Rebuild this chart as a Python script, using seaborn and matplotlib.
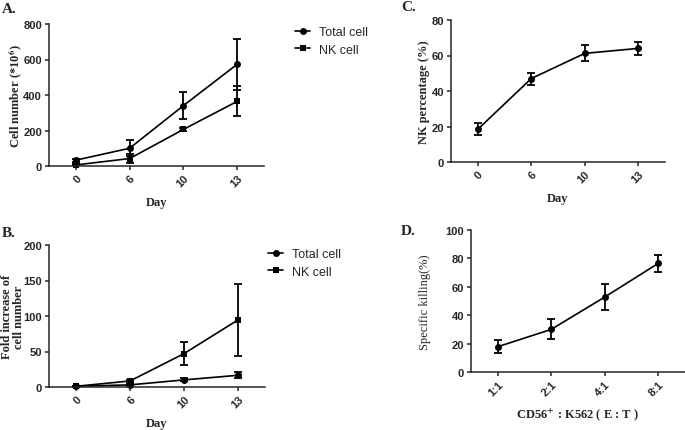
import matplotlib
matplotlib.use('Agg')
import matplotlib.pyplot as plt
import seaborn as sns

# values (mean and error bar half-length)
days = ["0", "6", "10", "13"]
total_cell = [33, 100, 340, 573]
total_cell_err = [8, 45, 75, 143]
nk_cell = [6, 42, 206, 364]
nk_cell_err = [3, 25, 8, 85]

fold_total = [1, 3, 10, 16.5]
fold_total_err = [0.3, 1, 2, 4]
fold_nk = [1, 8.5, 47, 94.5]
fold_nk_err = [0.5, 2, 16, 51]

nk_pct = [18.4, 47, 61.2, 64]
nk_pct_err = [3.4, 3.4, 4.5, 3.7]

ratios = ["1:1", "2:1", "4:1", "8:1"]
killing = [17.8, 30, 52.8, 76.5]
killing_err = [4.4, 7, 9, 6]

sns.set_style('ticks')
plt.rcParams['font.family'] = ['Liberation Sans', 'DejaVu Sans']
plt.rcParams['mathtext.fontset'] = 'stix'

W, H = 685, 431
fig = plt.figure(figsize=(6.85, 4.31), dpi=100)

def px_axes(left, right, top, bottom):
    return fig.add_axes([left / W, 1 - bottom / H, (right - left) / W, (bottom - top) / H])

serif = dict(fontfamily='Liberation Serif', fontweight='bold', fontsize=9)

def series(ax, x, y, err, marker, label=None):
    sns.lineplot(x=x, y=y, marker=marker, color='black', lw=1.2, markersize=5,
                 markeredgewidth=0, sort=False, label=label, ax=ax, clip_on=False)
    ax.errorbar(x, y, yerr=err, fmt='none', ecolor='black', elinewidth=1.3,
                capsize=2.6, capthick=1.3, clip_on=False)

def style(ax, yticks, xlabel, ylabel, ylab_x, xlab_y=-0.254, ylab_kw=serif):
    ax.set_ylim(yticks[0], yticks[-1])
    ax.set_yticks(yticks)
    ax.set_xlim(-0.5, 3.5)
    sns.despine(ax=ax)
    for s in ['left', 'bottom']:
        ax.spines[s].set_linewidth(1.1)
    ax.tick_params(width=1.1, length=3, labelsize=8, pad=2)
    for t in ax.get_yticklabels():
        t.set_fontweight('bold')
    for t in ax.get_xticklabels():
        t.set_fontweight('bold')
        t.set_rotation(45)
        t.set_ha('right')
        t.set_rotation_mode('anchor')
    ax.set_xlabel(xlabel, va='center', **serif)
    ax.set_ylabel(ylabel, va='center', ha='center', linespacing=1.0, **ylab_kw)
    ax.xaxis.set_label_coords(0.5, xlab_y)
    ax.yaxis.set_label_coords(ylab_x, 0.5)

def legend(ax, x, top):
    ax.legend(loc='upper left', bbox_to_anchor=(x / W, 1 - top / H),
              bbox_transform=fig.transFigure, frameon=False, fontsize=9,
              handlelength=1.2, handletextpad=0.7, labelspacing=0.45,
              borderpad=0, borderaxespad=0)

# A
axA = px_axes(49, 264, 25, 167)
series(axA, days, total_cell, total_cell_err, 'o', 'Total cell')
series(axA, days, nk_cell, nk_cell_err, 's', 'NK cell')
style(axA, [0, 200, 400, 600, 800], 'Day', r'Cell number (*10$^{\mathbf{6}}$)', -0.155)
legend(axA, 295, 27)

# B
axB = px_axes(49, 265, 246, 388)
series(axB, days, fold_total, fold_total_err, 'o', 'Total cell')
series(axB, days, fold_nk, fold_nk_err, 's', 'NK cell')
style(axB, [0, 50, 100, 150, 200], 'Day', 'Fold increase of\ncell number', -0.166)
legend(axB, 268, 249)

# C
axC = px_axes(451, 665, 21, 163)
series(axC, days, nk_pct, nk_pct_err, 'o')
style(axC, [0, 20, 40, 60, 80], 'Day', 'NK percentage (%)', -0.125)

# D
axD = px_axes(471, 685, 231, 373)
series(axD, ratios, killing, killing_err, 'o')
style(axD, [0, 20, 40, 60, 80, 100], r'CD56$^{\mathbf{+}}$ : K562 ( E : T )',
      'Specific killing(%)', -0.215, xlab_y=-0.296,
      ylab_kw=dict(fontfamily='Liberation Serif', fontsize=9))

letter = dict(fontfamily='Liberation Serif', fontweight='bold', fontsize=11, va='top')
fig.text(2 / W, 1 - 3 / H, 'A.', **letter)
fig.text(2 / W, 1 - 227 / H, 'B.', **letter)
fig.text(401 / W, 1 - 1 / H, 'C.', **letter)
fig.text(401 / W, 1 - 225 / H, 'D.', **letter)

fig.savefig('out.png', dpi=100)
